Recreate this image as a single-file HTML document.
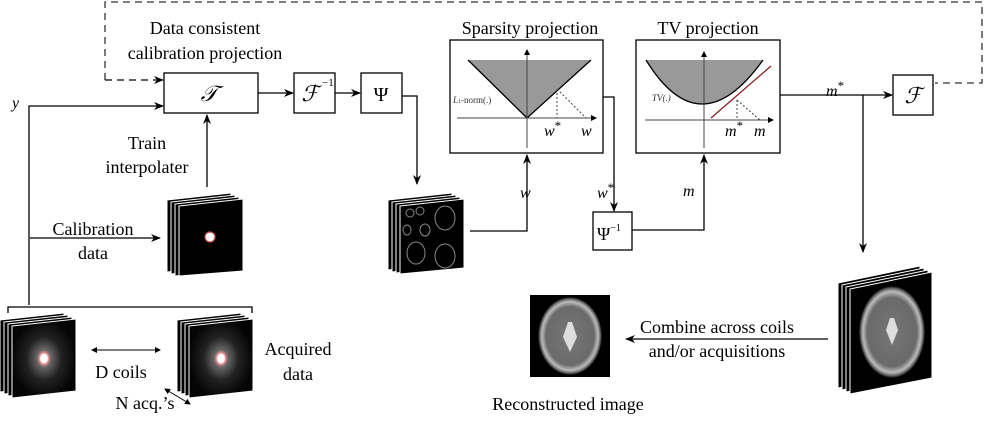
<!DOCTYPE html>
<html><head><meta charset="utf-8"><style>
html,body{margin:0;padding:0;background:#fff;}
text{font-family:"Liberation Serif","Times New Roman",Times,serif;}
</style></head><body>
<svg width="991" height="416" viewBox="0 0 991 416" xmlns="http://www.w3.org/2000/svg">
<defs>
<marker id="a" markerWidth="10" markerHeight="8" refX="9" refY="4" orient="auto" markerUnits="userSpaceOnUse"><path d="M0,0 L10,4 L0,8 L3,4z" fill="#000"/></marker>
<marker id="s" markerWidth="6" markerHeight="6" refX="5" refY="3" orient="auto" markerUnits="userSpaceOnUse"><path d="M0,0 L6,3 L0,6z" fill="#000"/></marker>
<marker id="s2" markerWidth="6" markerHeight="6" refX="1" refY="3" orient="auto" markerUnits="userSpaceOnUse"><path d="M6,0 L0,3 L6,6z" fill="#000"/></marker>
<radialGradient id="glow"><stop offset="0" stop-color="#fff"/><stop offset="0.1" stop-color="#fff"/><stop offset="0.15" stop-color="#d88"/><stop offset="0.22" stop-color="#666"/><stop offset="0.55" stop-color="#222"/><stop offset="1" stop-color="#050505"/></radialGradient>
<radialGradient id="brain"><stop offset="0" stop-color="#777"/><stop offset="0.75" stop-color="#6a6a6a"/><stop offset="0.88" stop-color="#bbb"/><stop offset="0.96" stop-color="#555"/><stop offset="1" stop-color="#000"/></radialGradient>
</defs>
<g fill="none" stroke="#000" stroke-width="1.3">
<path d="M105,80 L105,2 L982,2 L982,83 L935,83" stroke-dasharray="7,5" stroke="#333"/>
<path d="M105,80 L163,80" stroke-dasharray="7,5" marker-end="url(#a)"/>
<rect x="164" y="73" width="94" height="40"/>
<rect x="294" y="73" width="41" height="40"/>
<rect x="361" y="73" width="41" height="40"/>
<rect x="450" y="40" width="153" height="113"/>
<rect x="636" y="40" width="144" height="113"/>
<rect x="593" y="212" width="39" height="38"/>
<rect x="893" y="75" width="40" height="40"/>
<path d="M258,93 L293,93" marker-end="url(#a)"/>
<path d="M335,93 L360,93" marker-end="url(#a)"/>
<path d="M402,96 L417,96 L417,184" marker-end="url(#a)"/>
<path d="M29,305 L29,106 L163,106" marker-end="url(#a)"/>
<path d="M207,187 L207,115" marker-end="url(#a)"/>
<path d="M30,238 L160,238" marker-end="url(#a)"/>
<path d="M470,231 L527,231 L527,155" marker-end="url(#a)"/>
<path d="M603,97 L614,97 L614,211" marker-end="url(#a)"/>
<path d="M632,230 L704,230 L704,155" marker-end="url(#a)"/>
<path d="M780,95 L892,95" marker-end="url(#a)"/>
<path d="M863,95 L863,252" marker-end="url(#a)"/>
<path d="M828,339 L626,339" marker-end="url(#a)"/>
<path d="M8,313 L8,307 L252,307 L252,313"/>
<path d="M92,350 L160,350" stroke-width="1" marker-start="url(#s2)" marker-end="url(#s)"/>
<path d="M165,389 L190,404" stroke-width="1" marker-start="url(#s2)" marker-end="url(#s)"/>
</g>
<polygon points="468,60 591,60 527,118" fill="#999"/>
<path d="M468,60 L527,118 L591,60" fill="none" stroke="#000" stroke-width="1.3"/>
<path d="M457,118 L596,118" stroke="#444" fill="none" marker-end="url(#s)"/>
<path d="M527,148 L527,50" stroke="#444" fill="none" marker-end="url(#s)"/>
<path d="M557,89 L557,118 M557,89 L586,118" stroke="#444" stroke-dasharray="2,2" fill="none"/>
<text x="453" y="103" font-size="9" fill="#333"><tspan font-style="italic">L</tspan><tspan font-size="6">1</tspan>-norm(.)</text>
<text x="544" y="136" font-size="16" font-style="italic">w<tspan font-size="13" font-style="normal" dy="-6">*</tspan></text>
<text x="581" y="136" font-size="16" font-style="italic">w</text>
<path d="M646,60 Q700,148 763,60 Z" fill="#999"/>
<path d="M646,60 Q700,148 763,60" fill="none" stroke="#000" stroke-width="1.3"/>
<path d="M711,118 L771,66" stroke="#8b1a1a" stroke-width="1.2"/>
<path d="M645,120 L773,120" stroke="#444" fill="none" marker-end="url(#s)"/>
<path d="M704,148 L704,52" stroke="#444" fill="none" marker-end="url(#s)"/>
<path d="M737,100 L737,120 M737,100 L760,120" stroke="#444" stroke-dasharray="2,2" fill="none"/>
<text x="652" y="101" font-size="9" font-style="italic" fill="#333">TV(.)</text>
<text x="725" y="136" font-size="16" font-style="italic">m<tspan font-size="13" font-style="normal" dy="-6">*</tspan></text>
<text x="754" y="136" font-size="16" font-style="italic">m</text>
<g font-size="18" text-anchor="middle">
<text x="205" y="34">Data consistent</text>
<text x="205" y="59">calibration projection</text>
<text x="530" y="34">Sparsity projection</text>
<text x="708" y="34">TV projection</text>
<text x="147" y="149">Train</text>
<text x="147" y="173">interpolater</text>
<text x="93" y="235">Calibration</text>
<text x="93" y="259">data</text>
<text x="298" y="355">Acquired</text>
<text x="298" y="380">data</text>
<text x="717" y="333">Combine across coils</text>
<text x="717" y="357">and/or acquisitions</text>
<text x="568" y="410">Reconstructed image</text>
<text x="121" y="378">D coils</text>
<text x="145" y="409">N acq.’s</text>
</g>
<g font-style="italic" font-size="16">
<text x="12" y="108">y</text>
<text x="520" y="198">w</text>
<text x="597" y="198">w<tspan font-size="13" font-style="normal" dy="-6">*</tspan></text>
<text x="683" y="196">m</text>
<text x="826" y="96">m<tspan font-size="13" font-style="normal" dy="-6">*</tspan></text>
</g>
<g font-size="22" text-anchor="middle" font-style="italic">
<text x="209" y="101">𝒯</text>
<text x="310" y="101">ℱ</text>
<text x="913" y="103">ℱ</text>
</g>
<text x="322" y="86" font-size="11">−1</text>
<text x="381" y="101" font-size="20" text-anchor="middle">Ψ</text>
<text x="597" y="240" font-size="18">Ψ<tspan font-size="10" dy="-9">−1</tspan></text>
<g stroke="#fff" stroke-width="1">
<g fill="#000">
<polygon points="167,200 231,193 231,265 167,272"/><polygon points="171,202 235,195 235,267 171,274"/><polygon points="175,204 239,197 239,269 175,276"/>
</g>
<polygon points="179,206 243,199 243,271 179,276" fill="#000"/>
<circle cx="210" cy="237" r="5" fill="#fff" stroke="#c44" stroke-width="1.2"/>
<g fill="#000">
<polygon points="388,200 452,193 452,262 388,270"/><polygon points="392,202 456,195 456,264 392,272"/><polygon points="396,204 460,197 460,266 396,273"/><polygon points="400,206 464,199 464,268 400,274"/>
</g>
<g fill="none" stroke="#888" stroke-width="1"><ellipse cx="445" cy="218" rx="10" ry="12"/><ellipse cx="445" cy="256" rx="10" ry="12"/><ellipse cx="416" cy="253" rx="9" ry="11"/><ellipse cx="425" cy="230" rx="5" ry="6"/><ellipse cx="407" cy="230" rx="4" ry="5"/><ellipse cx="410" cy="213" rx="4" ry="4"/><ellipse cx="420" cy="211" rx="4" ry="4"/></g>
<g fill="#000">
<polygon points="0,320 64,313 64,385 0,392"/><polygon points="4,322 68,315 68,387 4,394"/><polygon points="8,324 72,317 72,389 8,396"/>
<polygon points="12,326 76,319 76,391 12,398" fill="url(#glow)"/>
<polygon points="177,320 241,313 241,385 177,392"/><polygon points="181,322 245,315 245,387 181,394"/><polygon points="185,324 249,317 249,389 185,396"/>
<polygon points="189,326 253,319 253,391 189,398" fill="url(#glow)"/>
<polygon points="838,283 920,266 920,372 838,388"/><polygon points="842,285 924,268 924,374 842,390"/><polygon points="846,287 928,270 928,376 846,392"/>
<polygon points="850,289 932,272 932,378 850,394"/>
</g>
</g>
<ellipse cx="892" cy="332" rx="33" ry="46" fill="url(#brain)"/>
<path d="M890,318 L886,330 L892,345 L898,330 L894,318 Z" fill="#ddd"/>
<rect x="530" y="295" width="80" height="82" fill="#000"/>
<ellipse cx="570" cy="336" rx="32" ry="39" fill="url(#brain)"/>
<path d="M568,322 L563,337 L570,352 L577,337 L572,322 Z" fill="#ddd"/>
</svg>
</body></html>
